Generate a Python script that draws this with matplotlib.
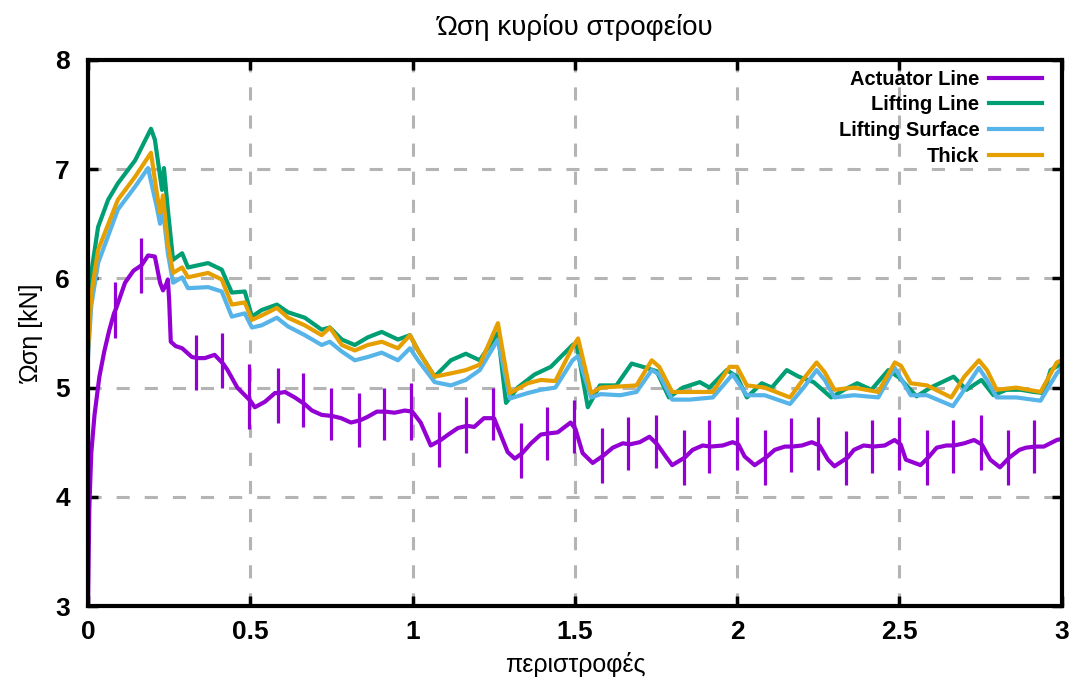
import matplotlib
matplotlib.use('Agg')
import matplotlib.pyplot as plt
from matplotlib.ticker import MultipleLocator

plt.rcParams['font.family'] = ['Liberation Sans Narrow', 'Liberation Sans', 'DejaVu Sans']

# Thrust of the main rotor versus revolutions, four blade models
# Actuator line: smooth part plus the short blade-passing spikes
act_x = [0.000, 0.004, 0.010, 0.020, 0.035, 0.050, 0.065, 0.080, 0.086, 0.114, 0.140,
         0.165, 0.185, 0.206, 0.222, 0.231, 0.243, 0.246, 0.250, 0.255, 0.270, 0.290,
         0.320, 0.338, 0.360, 0.390, 0.416, 0.430, 0.460, 0.490, 0.500, 0.514, 0.545,
         0.576, 0.588, 0.607, 0.637, 0.667, 0.690, 0.720, 0.752, 0.780, 0.810, 0.838,
         0.860, 0.890, 0.916, 0.945, 0.976, 0.999, 1.025, 1.056, 1.087, 1.110, 1.140,
         1.168, 1.190, 1.220, 1.251, 1.270, 1.293, 1.315, 1.338, 1.365, 1.395, 1.418,
         1.447, 1.487, 1.502, 1.524, 1.555, 1.589, 1.617, 1.648, 1.669, 1.700, 1.730,
         1.754, 1.780, 1.800, 1.839, 1.863, 1.894, 1.918, 1.956, 1.986, 2.004, 2.023,
         2.054, 2.089, 2.116, 2.147, 2.170, 2.200, 2.230, 2.254, 2.280, 2.300, 2.341,
         2.360, 2.390, 2.419, 2.455, 2.485, 2.504, 2.520, 2.565, 2.589, 2.615, 2.645,
         2.669, 2.700, 2.730, 2.754, 2.780, 2.810, 2.839, 2.870, 2.890, 2.919, 2.945,
         2.985, 3.000]
act_y = [3.00, 3.90, 4.40, 4.75, 5.10, 5.33, 5.52, 5.68, 5.72, 5.96, 6.07,
         6.12, 6.21, 6.20, 5.96, 5.89, 5.96, 5.99, 5.80, 5.42, 5.38, 5.36,
         5.28, 5.27, 5.27, 5.30, 5.22, 5.16, 5.00, 4.91, 4.88, 4.82, 4.87,
         4.95, 4.95, 4.96, 4.91, 4.85, 4.79, 4.75, 4.74, 4.72, 4.68, 4.70,
         4.73, 4.78, 4.78, 4.77, 4.79, 4.78, 4.68, 4.47, 4.52, 4.57, 4.63,
         4.65, 4.64, 4.72, 4.72, 4.58, 4.41, 4.35, 4.40, 4.49, 4.57, 4.58,
         4.59, 4.68, 4.62, 4.40, 4.31, 4.38, 4.45, 4.49, 4.48, 4.50, 4.55,
         4.48, 4.37, 4.29, 4.36, 4.43, 4.47, 4.46, 4.47, 4.50, 4.48, 4.37,
         4.29, 4.36, 4.43, 4.46, 4.46, 4.47, 4.50, 4.47, 4.34, 4.28, 4.36,
         4.43, 4.47, 4.46, 4.47, 4.52, 4.48, 4.34, 4.29, 4.36, 4.45, 4.47,
         4.47, 4.49, 4.52, 4.48, 4.34, 4.27, 4.36, 4.43, 4.45, 4.46, 4.46,
         4.52, 4.53]
spike_x = [0.083, 0.162, 0.334, 0.412, 0.496, 0.584, 0.663, 0.748, 0.834, 0.912, 0.995,
           1.083, 1.164, 1.247, 1.334, 1.414, 1.498, 1.585, 1.665, 1.750, 1.835, 1.914,
           2.000, 2.085, 2.166, 2.250, 2.337, 2.415, 2.500, 2.585, 2.665, 2.750, 2.835,
           2.915]
spike_hi = [5.97, 6.37, 5.48, 5.50, 5.22, 5.18, 5.13, 5.00, 4.95, 5.00, 5.04,
            4.78, 4.91, 5.00, 4.68, 4.82, 4.89, 4.63, 4.73, 4.75, 4.61, 4.70,
            4.73, 4.61, 4.72, 4.73, 4.60, 4.70, 4.73, 4.61, 4.70, 4.75, 4.61,
            4.70]
spike_lo = [5.45, 5.87, 4.98, 5.00, 4.62, 4.68, 4.64, 4.52, 4.46, 4.52, 4.52,
            4.27, 4.40, 4.52, 4.17, 4.34, 4.40, 4.13, 4.25, 4.26, 4.11, 4.22,
            4.25, 4.11, 4.23, 4.25, 4.11, 4.22, 4.25, 4.11, 4.22, 4.25, 4.11,
            4.22]

ll_x = [0.000, 0.010, 0.031, 0.062, 0.092, 0.145, 0.194, 0.206, 0.228, 0.234, 0.246,
        0.262, 0.290, 0.308, 0.370, 0.412, 0.443, 0.483, 0.505, 0.535, 0.582, 0.616,
        0.668, 0.720, 0.745, 0.782, 0.822, 0.862, 0.905, 0.955, 0.992, 1.017, 1.068,
        1.118, 1.164, 1.207, 1.263, 1.288, 1.324, 1.376, 1.426, 1.493, 1.505, 1.540,
        1.577, 1.628, 1.675, 1.710, 1.752, 1.790, 1.833, 1.885, 1.915, 1.968, 2.000,
        2.030, 2.076, 2.107, 2.153, 2.190, 2.236, 2.290, 2.330, 2.370, 2.414, 2.466,
        2.500, 2.553, 2.596, 2.667, 2.707, 2.753, 2.790, 2.830, 2.874, 2.914, 2.945,
        2.966, 3.000]
ll_y = [5.60, 6.05, 6.47, 6.72, 6.87, 7.08, 7.37, 7.27, 6.81, 7.01, 6.63,
        6.17, 6.23, 6.10, 6.14, 6.08, 5.87, 5.88, 5.65, 5.71, 5.76, 5.69,
        5.64, 5.53, 5.55, 5.44, 5.39, 5.46, 5.51, 5.44, 5.48, 5.34, 5.10,
        5.25, 5.31, 5.25, 5.50, 4.86, 5.00, 5.12, 5.19, 5.39, 5.41, 4.82,
        5.02, 5.02, 5.22, 5.19, 5.15, 4.91, 5.00, 5.05, 5.00, 5.16, 5.10,
        4.91, 5.04, 5.00, 5.16, 5.10, 5.05, 4.91, 4.98, 5.04, 4.98, 5.16,
        5.09, 4.92, 5.00, 5.10, 4.98, 5.07, 4.93, 4.98, 4.98, 4.96, 4.95,
        5.16, 5.22]

ls_x = [0.000, 0.010, 0.031, 0.092, 0.145, 0.185, 0.212, 0.222, 0.231, 0.246, 0.262,
        0.290, 0.308, 0.370, 0.412, 0.443, 0.483, 0.505, 0.535, 0.582, 0.616, 0.668,
        0.720, 0.745, 0.782, 0.822, 0.862, 0.905, 0.955, 0.992, 1.017, 1.068, 1.118,
        1.164, 1.207, 1.263, 1.300, 1.355, 1.395, 1.440, 1.493, 1.510, 1.550, 1.580,
        1.640, 1.690, 1.737, 1.760, 1.800, 1.854, 1.925, 1.986, 2.030, 2.085, 2.163,
        2.205, 2.245, 2.270, 2.300, 2.360, 2.435, 2.486, 2.535, 2.585, 2.665, 2.700,
        2.745, 2.770, 2.800, 2.860, 2.935, 2.985, 3.000]
ls_y = [5.28, 5.75, 6.14, 6.63, 6.84, 7.01, 6.65, 6.50, 6.63, 6.23, 5.96,
        6.01, 5.91, 5.92, 5.88, 5.65, 5.68, 5.55, 5.57, 5.64, 5.56, 5.48,
        5.39, 5.42, 5.33, 5.25, 5.28, 5.32, 5.25, 5.36, 5.25, 5.05, 5.02,
        5.07, 5.16, 5.44, 4.90, 4.95, 4.98, 5.00, 5.25, 5.29, 4.91, 4.94,
        4.93, 4.96, 5.16, 5.12, 4.89, 4.89, 4.91, 5.12, 4.93, 4.93, 4.85,
        5.00, 5.16, 5.07, 4.91, 4.93, 4.91, 5.18, 4.93, 4.93, 4.83, 4.98,
        5.18, 5.07, 4.91, 4.91, 4.88, 5.13, 5.18]

th_x = [0.000, 0.010, 0.031, 0.092, 0.145, 0.194, 0.212, 0.222, 0.231, 0.246, 0.262,
        0.290, 0.308, 0.370, 0.412, 0.443, 0.483, 0.505, 0.535, 0.582, 0.616, 0.668,
        0.720, 0.745, 0.782, 0.822, 0.862, 0.905, 0.955, 0.992, 1.017, 1.068, 1.118,
        1.164, 1.207, 1.263, 1.300, 1.355, 1.395, 1.440, 1.493, 1.510, 1.550, 1.580,
        1.690, 1.737, 1.760, 1.800, 1.854, 1.925, 1.977, 2.000, 2.030, 2.085, 2.163,
        2.210, 2.245, 2.270, 2.300, 2.360, 2.435, 2.486, 2.505, 2.535, 2.585, 2.660,
        2.700, 2.745, 2.770, 2.800, 2.860, 2.935, 2.985, 3.000]
th_y = [5.35, 5.85, 6.26, 6.72, 6.93, 7.15, 6.78, 6.60, 6.76, 6.32, 6.05,
        6.10, 6.01, 6.05, 5.99, 5.76, 5.78, 5.62, 5.66, 5.73, 5.64, 5.57,
        5.48, 5.55, 5.39, 5.34, 5.39, 5.42, 5.36, 5.48, 5.34, 5.10, 5.13,
        5.16, 5.21, 5.59, 4.95, 5.04, 5.07, 5.06, 5.37, 5.45, 4.95, 5.00,
        5.02, 5.25, 5.19, 4.96, 4.96, 4.96, 5.19, 5.19, 5.02, 5.00, 4.91,
        5.10, 5.23, 5.14, 4.98, 5.00, 4.96, 5.23, 5.20, 5.04, 5.02, 4.91,
        5.10, 5.25, 5.16, 4.98, 5.00, 4.96, 5.23, 5.25]

act_color = '#9400d3'
series = [
    (ll_x, ll_y, 'Lifting Line', '#009e73'),
    (ls_x, ls_y, 'Lifting Surface', '#56b4e9'),
    (th_x, th_y, 'Thick', '#e69f00'),
]

fig = plt.figure(figsize=(10.8, 6.93), dpi=100)
ax = fig.add_axes([0.0815, 0.1255, 0.9015, 0.788])

ax.plot(act_x, act_y, color=act_color, lw=3.0, label='Actuator Line')
ax.vlines(spike_x, spike_lo, spike_hi, color=act_color, lw=2.3)
for x, y, name, col in series:
    ax.plot(x, y, color=col, lw=3.0, label=name)

ax.set_xlim(0, 3)
ax.set_ylim(3, 8)
ax.set_xticks([0, 0.5, 1, 1.5, 2, 2.5, 3])
ax.set_xticklabels(['0', '0.5', '1', '1.5', '2', '2.5', '3'])
ax.yaxis.set_major_locator(MultipleLocator(1))

# gnuplot-like dashed grid
ax.grid(True, color='#b4b4b4', lw=2.2, linestyle=(0, (4.3, 4.9)))
ax.set_axisbelow(True)

for sp in ax.spines.values():
    sp.set_linewidth(3)
ax.tick_params(direction='in', length=7, width=2.5, top=True, right=True,
               labelsize=19, pad=10)
ax.tick_params(axis='y', pad=13)
for lab in ax.get_xticklabels() + ax.get_yticklabels():
    lab.set_fontweight('bold')

ax.set_title('Ώση κυρίου στροφείου', fontsize=20, pad=18)
ax.set_xlabel('περιστροφές', fontsize=18, labelpad=6)
ax.set_ylabel('Ώση [kN]', fontsize=18, labelpad=8)

leg = ax.legend(loc='upper right', bbox_to_anchor=(0.994, 1.008),
                markerfirst=False, frameon=False,
                prop={'weight': 'bold', 'size': 14.5}, handlelength=2.6,
                handletextpad=0.5, labelspacing=0.33, borderaxespad=0.3)

fig.savefig('out.png', dpi=100)
